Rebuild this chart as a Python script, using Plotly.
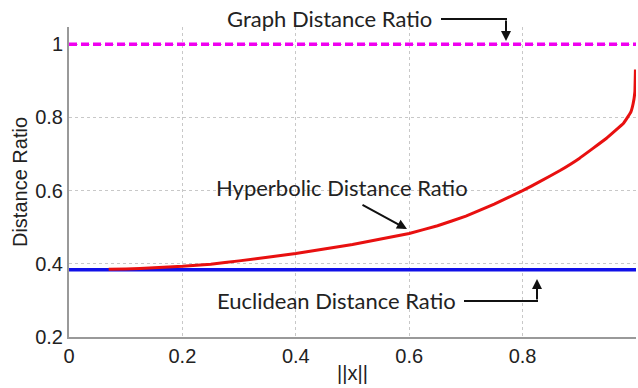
import plotly.graph_objects as go

# ---- data ----
graph_x = [0.0, 1.0]
graph_y = [1.0, 1.0]

eucl_x = [0.0, 1.0]
eucl_y = [0.384, 0.384]

hyp_x = [0.07, 0.1, 0.15, 0.2, 0.25, 0.3, 0.4, 0.5, 0.6, 0.65, 0.7, 0.75, 0.8,
         0.831, 0.866, 0.9, 0.948, 0.978, 0.985, 0.991, 0.995, 0.998, 0.999]
hyp_y = [0.385, 0.386, 0.389, 0.393, 0.399, 0.408, 0.428, 0.453, 0.483, 0.504,
         0.530, 0.563, 0.600, 0.625, 0.655, 0.688, 0.743, 0.784, 0.800, 0.815,
         0.838, 0.870, 0.931]

x_ticks = [0, 0.2, 0.4, 0.6, 0.8, 1]
x_ticktext = ["0", "0.2", "0.4", "0.6", "0.8", "1"]
y_ticks = [0.2, 0.4, 0.6, 0.8, 1]
y_ticktext = ["0.2", "0.4", "0.6", "0.8", "1"]

L, R, T, B = 69, 2, 27, 51
W, H = 638, 388
PW, PH = W - L - R, H - T - B


def px(x):
    return (x - L) / PW


def py(y):
    return (H - B - y) / PH


fig = go.Figure()
fig.add_trace(go.Scatter(x=graph_x, y=graph_y, mode="lines",
                         line=dict(color="#f000f0", width=3.5, dash="8px,4px"),
                         showlegend=False))
fig.add_trace(go.Scatter(x=eucl_x, y=eucl_y, mode="lines",
                         line=dict(color="#1010e8", width=3.5),
                         showlegend=False))
fig.add_trace(go.Scatter(x=hyp_x, y=hyp_y, mode="lines",
                         line=dict(color="#e81010", width=3, shape="spline", smoothing=0.2),
                         showlegend=False))

afont = dict(family="Lato, Open Sans, sans-serif", size=22, color="#222")


def label(text, cx, cy):
    return dict(text=text, x=px(cx), y=py(cy), xref="paper", yref="paper",
                xanchor="center", yanchor="middle", showarrow=False, font=afont)


annotations = [
    label("Graph Distance Ratio", 329, 19),
    label("Hyperbolic Distance Ratio", 342, 187),
    label("Euclidean Distance Ratio", 336, 300),
    # arrows
    dict(text="", x=px(506), y=py(41), xref="paper", yref="paper", showarrow=True,
         ax=0, ay=-22, arrowhead=2, arrowsize=1, arrowwidth=2, arrowcolor="#111"),
    dict(text="", x=px(407), y=py(229), xref="paper", yref="paper", showarrow=True,
         ax=-46, ay=-25, arrowhead=2, arrowsize=1, arrowwidth=2, arrowcolor="#111"),
    dict(text="", x=px(537), y=py(279), xref="paper", yref="paper", showarrow=True,
         ax=0, ay=22, arrowhead=2, arrowsize=1, arrowwidth=2, arrowcolor="#111"),
]
shapes = [
    dict(type="line", xref="paper", yref="paper", x0=px(441), x1=px(507), y0=py(19), y1=py(19),
         line=dict(color="#111", width=2)),
    dict(type="line", xref="paper", yref="paper", x0=px(464), x1=px(538), y0=py(301), y1=py(301),
         line=dict(color="#111", width=2)),
]

fig.update_layout(
    width=W, height=H,
    margin=dict(l=L, r=R, t=T, b=B),
    plot_bgcolor="white", paper_bgcolor="white",
    font=dict(family="Liberation Sans, Arial, sans-serif", size=20, color="#222"),
    annotations=annotations, shapes=shapes,
    xaxis=dict(range=[0, 1], tickvals=x_ticks, ticktext=x_ticktext,
               showgrid=True, gridcolor="#c8c8c8", griddash="dot", gridwidth=1,
               showline=True, linecolor="#999", linewidth=2, zeroline=False,
               ticks="", title=dict(text="||x||", font=dict(size=20), standoff=0)),
    yaxis=dict(range=[0.2, 1.047], tickvals=y_ticks, ticktext=y_ticktext,
               showgrid=True, gridcolor="#c8c8c8", griddash="dot", gridwidth=1,
               showline=True, linecolor="#999", linewidth=2, zeroline=False,
               ticks="", title=dict(text="Distance Ratio", font=dict(size=20), standoff=2)),
)

fig.write_html("out.html")
